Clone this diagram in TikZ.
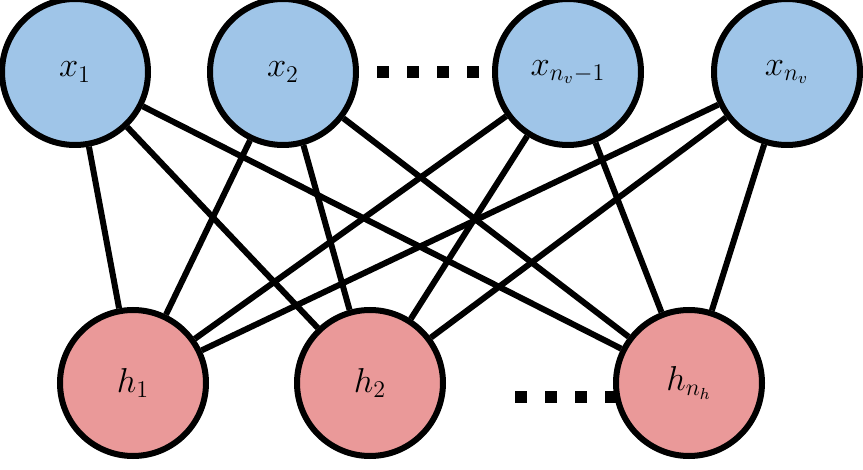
\documentclass[tikz,border=0pt]{standalone}
\usetikzlibrary{backgrounds}
\definecolor{vblue}{HTML}{9FC5E8}
\definecolor{hred}{HTML}{EA9999}
\tikzstyle{vis} = [draw, circle, fill=vblue, line width=3pt, minimum size=73pt, inner sep=0pt, font=\fontsize{17}{20}\selectfont]
\tikzstyle{hid} = [draw, circle, fill=hred, line width=3pt, minimum size=73pt, inner sep=0pt, font=\fontsize{17}{20}\selectfont]
\tikzstyle{link} = [draw, line width=3pt]
\tikzstyle{dot} = [fill=black, minimum size=6pt, inner sep=0pt]
\begin{document}
\begin{tikzpicture}[x=0.5pt, y=-0.5pt]
	\useasboundingbox (0,0) rectangle (863,470);
	\node [vis] (x1) at (75,72) {$x_{1}$};
	\node [vis] (x2) at (283,72) {$x_{2}$};
	\node [vis] (x3) at (568,72) {$x_{n_v-1}$};
	\node [vis] (x4) at (787,72) {$x_{n_v}$};
	
	\node [hid] (h1) at (133,383) {$h_{1}$};
	\node [hid] (h2) at (370,383) {$h_{2}$};
	\node [hid] (h3) at (689,383) {$h_{n_h}$};
	
	\foreach \i in {0,...,3} {
		\node [dot] (td\i) at (383+\i*30,72) {};
		\node [dot] (bd\i) at (521+\i*30,397) {};
	}
	
	\begin{scope}[on background layer]
	\foreach \v in {x1,x2,x3,x4}
		\foreach \h in {h1,h2,h3}
			\path [link] (\v) to (\h);
	\end{scope}
\end{tikzpicture}
\end{document}
